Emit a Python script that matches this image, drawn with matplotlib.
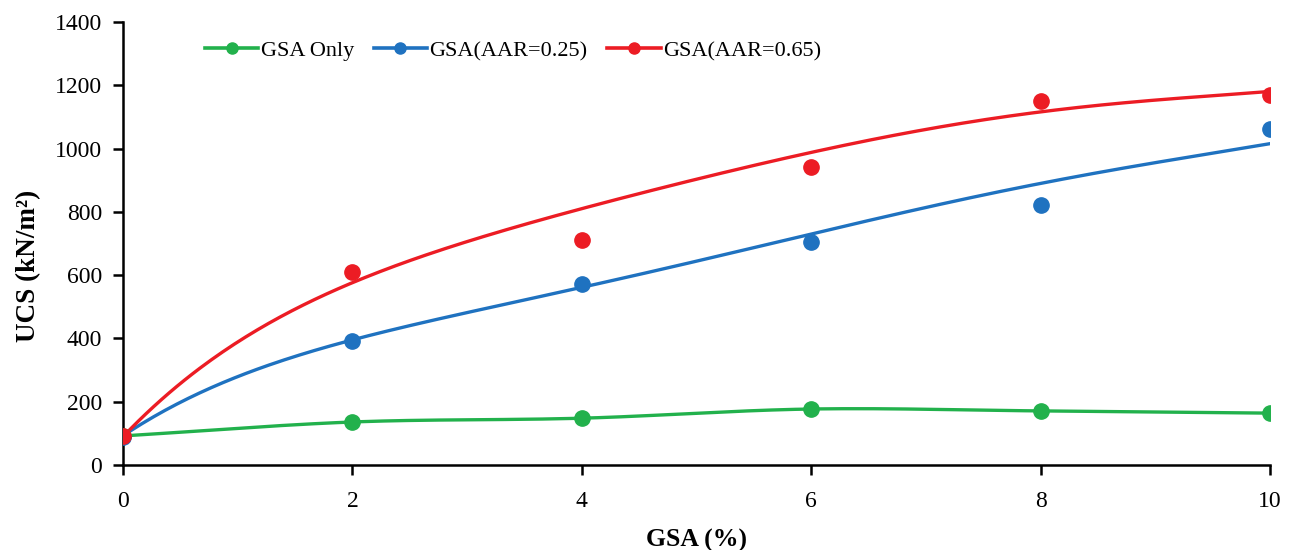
import numpy as np
import matplotlib
matplotlib.use('Agg')
import matplotlib.pyplot as plt
from matplotlib.lines import Line2D

plt.rcParams['font.family'] = ['Liberation Serif', 'DejaVu Serif']

gsa = [0, 2, 4, 6, 8, 10]
ucs_gsa_only = [92, 136, 148, 177, 171, 164]
ucs_aar_025 = [90, 392, 572, 705, 822, 1062]
ucs_aar_065 = [92, 610, 711, 942, 1150, 1169]

# trendline values
trend_x = [0, 0.5, 1, 2, 3, 4, 5, 6, 7, 8, 9, 10]
trend_aar_025 = [90, 200, 285, 390, 478, 565, 648, 730, 810, 888, 960, 1014]
trend_aar_065 = [92, 250, 395, 578, 702, 810, 905, 990, 1058, 1115, 1155, 1180]

GREEN = '#22b14c'
BLUE = '#1f72c0'
RED = '#ec1c24'


def catmull_rom(x, y, n=30):
    # smoothed line through the points, like a spreadsheet "smooth line"
    x = np.asarray(x, float)
    y = np.asarray(y, float)
    px = np.concatenate([[2 * x[0] - x[1]], x, [2 * x[-1] - x[-2]]])
    py = np.concatenate([[2 * y[0] - y[1]], y, [2 * y[-1] - y[-2]]])
    xs, ys = [], []
    t = np.linspace(0, 1, n)
    for i in range(1, len(px) - 2):
        for arr, out in ((px, xs), (py, ys)):
            p0, p1, p2, p3 = arr[i - 1], arr[i], arr[i + 1], arr[i + 2]
            out.extend(0.5 * ((2 * p1) + (-p0 + p2) * t +
                              (2 * p0 - 5 * p1 + 4 * p2 - p3) * t ** 2 +
                              (-p0 + 3 * p1 - 3 * p2 + p3) * t ** 3))
    return np.array(xs), np.array(ys)


fig = plt.figure(figsize=(12.91, 5.5), dpi=100)
ax = fig.add_axes([0.0953, 0.1545, 0.8884, 0.8055])

# GSA only: smoothed line with markers
sx, sy = catmull_rom(gsa, ucs_gsa_only)
ax.plot(sx, sy, color=GREEN, lw=2.4, zorder=2)
ax.plot(gsa, ucs_gsa_only, 'o', color=GREEN, ms=11, zorder=3)

# AAR series: points plus a smooth trendline through the read values
xf = np.linspace(0, 10, 300)
for vals, trend, col in ((ucs_aar_025, trend_aar_025, BLUE),
                         (ucs_aar_065, trend_aar_065, RED)):
    coef = np.polyfit(trend_x, trend, 5)
    ax.plot(xf, np.polyval(coef, xf), color=col, lw=2.4, zorder=2)
    ax.plot(gsa, vals, 'o', color=col, ms=11, zorder=3)

ax.set_xlim(0, 10)
ax.set_ylim(0, 1400)
ax.set_xticks(gsa)
ax.set_yticks(range(0, 1401, 200))
ax.spines['top'].set_visible(False)
ax.spines['right'].set_visible(False)
ax.spines['left'].set_linewidth(1.8)
ax.spines['bottom'].set_linewidth(1.8)
ax.tick_params(direction='out', length=7, width=1.8, labelsize=17)
ax.tick_params(axis='x', pad=12)
ax.tick_params(axis='y', pad=8)
ax.set_xlabel('GSA (%)', fontsize=18.5, fontweight='bold', labelpad=12)
ax.set_ylabel('UCS (kN/m²)', fontsize=19.5, fontweight='bold')
ax.yaxis.set_label_coords(-0.071, 0.45)

handles = [Line2D([], [], color=c, lw=2.6, marker='o', ms=8)
           for c in (GREEN, BLUE, RED)]
ax.legend(handles, ['GSA Only', 'GSA(AAR=0.25)', 'GSA(AAR=0.65)'],
          loc='upper left', bbox_to_anchor=(0.054, 1.003), ncol=3, frameon=False,
          fontsize=16, handlelength=2.4, handletextpad=0.1, columnspacing=0.9)

fig.savefig('out.png', dpi=100)
